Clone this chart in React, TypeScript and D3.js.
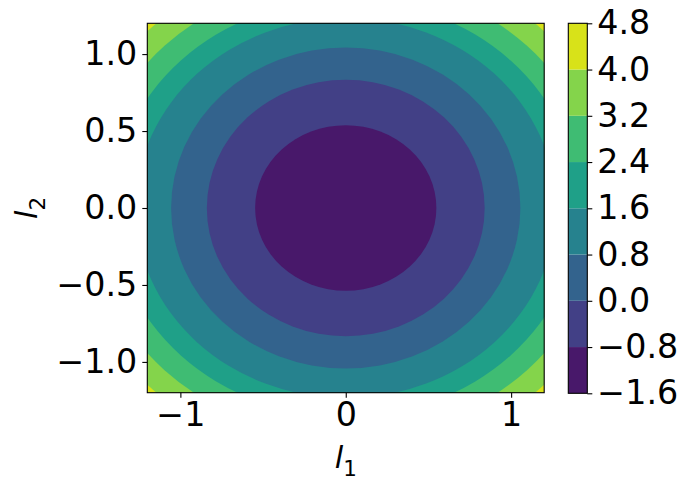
import { useRef, useEffect } from 'react';
import * as d3 from 'd3';

// contour levels (colorbar boundaries)
const levels = [-1.6, -0.8, 0.0, 0.8, 1.6, 2.4, 3.2, 4.0, 4.8];
// where each inner boundary (levels[1..7]) meets the l1 axis and the l2 axis
const boundaryL1 = [0.548, 0.84, 1.056, 1.27, 1.41, 1.55, 1.68];
const boundaryL2 = [0.538, 0.833, 1.043, 1.235, 1.355, 1.49, 1.64];
const xTicks = [-1, 0, 1];
const yTicks = [-1.0, -0.5, 0.0, 0.5, 1.0];

const FONT = 'DejaVu Sans, sans-serif';
const TICK_SIZE = '33.3px';
const LABEL_SIZE = '30.6px';
const minus = (s: string) => s.replace('-', '\u2212');

export default function App() {
  const ref = useRef<SVGSVGElement>(null);

  useEffect(() => {
    const svg = d3.select(ref.current);
    svg.selectAll('*').remove();

    const plot = { left: 147.3, right: 544.2, top: 23.3, bottom: 392.7 };
    const x = d3.scaleLinear().domain([-1.2, 1.2]).range([plot.left, plot.right]);
    const y = d3.scaleLinear().domain([-1.2, 1.2]).range([plot.bottom, plot.top]);

    const nBands = levels.length - 1;
    const color = (i: number) => d3.interpolateViridis((i + 0.5) / nBands);

    svg.append('clipPath').attr('id', 'plot-clip')
      .append('rect')
      .attr('x', plot.left).attr('y', plot.top)
      .attr('width', plot.right - plot.left).attr('height', plot.bottom - plot.top);

    const g = svg.append('g').attr('clip-path', 'url(#plot-clip)');

    // outermost band fills the whole area, then inner bands on top
    g.append('rect')
      .attr('x', plot.left).attr('y', plot.top)
      .attr('width', plot.right - plot.left).attr('height', plot.bottom - plot.top)
      .attr('fill', color(nBands - 1));

    for (let k = boundaryL1.length - 1; k >= 0; k--) {
      g.append('ellipse')
        .attr('cx', x(0)).attr('cy', y(0))
        .attr('rx', x(boundaryL1[k]) - x(0))
        .attr('ry', y(0) - y(boundaryL2[k]))
        .attr('fill', color(k));
    }

    // frame
    svg.append('rect')
      .attr('x', plot.left).attr('y', plot.top)
      .attr('width', plot.right - plot.left).attr('height', plot.bottom - plot.top)
      .attr('fill', 'none').attr('stroke', '#000').attr('stroke-width', 1.1);

    // x axis
    const xAxis = svg.append('g').attr('transform', `translate(0,${plot.bottom})`)
      .call(d3.axisBottom(x).tickValues(xTicks).tickSize(5).tickPadding(5).tickFormat(d => minus(d3.format('d')(d as number))));
    xAxis.select('.domain').remove();
    xAxis.selectAll('.tick line').attr('stroke', '#000').attr('stroke-width', 1.1);
    xAxis.selectAll('text').attr('font-family', FONT).attr('font-size', TICK_SIZE).attr('fill', '#000');

    // y axis
    const yAxis = svg.append('g').attr('transform', `translate(${plot.left},0)`)
      .call(d3.axisLeft(y).tickValues(yTicks).tickSize(5).tickPadding(5).tickFormat(d => minus(d3.format('.1f')(d as number))));
    yAxis.select('.domain').remove();
    yAxis.selectAll('.tick line').attr('stroke', '#000').attr('stroke-width', 1.1);
    yAxis.selectAll('text').attr('font-family', FONT).attr('font-size', TICK_SIZE).attr('fill', '#000');

    // axis labels
    const xl = svg.append('text')
      .attr('x', (plot.left + plot.right) / 2).attr('y', 468)
      .attr('text-anchor', 'middle').attr('font-family', FONT).attr('font-size', LABEL_SIZE);
    xl.append('tspan').attr('font-style', 'italic').text('l');
    xl.append('tspan').attr('font-size', '21.4px').attr('dy', 8).text('1');

    const yl = svg.append('text')
      .attr('transform', `translate(37,${(plot.top + plot.bottom) / 2}) rotate(-90)`)
      .attr('text-anchor', 'middle').attr('font-family', FONT).attr('font-size', LABEL_SIZE);
    yl.append('tspan').attr('font-style', 'italic').text('l');
    yl.append('tspan').attr('font-size', '21.4px').attr('dy', 8).text('2');

    // colorbar
    const cb = { left: 568.3, right: 587.3, top: 23.3, bottom: 393.3 };
    const yc = d3.scaleLinear().domain([levels[0], levels[levels.length - 1]]).range([cb.bottom, cb.top]);
    const cbg = svg.append('g');
    levels.slice(0, -1).forEach((lv, i) => {
      cbg.append('rect')
        .attr('x', cb.left).attr('y', yc(levels[i + 1]))
        .attr('width', cb.right - cb.left).attr('height', yc(lv) - yc(levels[i + 1]))
        .attr('fill', color(i));
    });
    cbg.append('rect')
      .attr('x', cb.left).attr('y', cb.top)
      .attr('width', cb.right - cb.left).attr('height', cb.bottom - cb.top)
      .attr('fill', 'none').attr('stroke', '#000').attr('stroke-width', 1.1);
    const cAxis = svg.append('g').attr('transform', `translate(${cb.right},0)`)
      .call(d3.axisRight(yc).tickValues(levels).tickSize(5).tickPadding(5).tickFormat(d => minus(d3.format('.1f')(d as number))));
    cAxis.select('.domain').remove();
    cAxis.selectAll('.tick line').attr('stroke', '#000').attr('stroke-width', 1.1);
    cAxis.selectAll('text').attr('font-family', FONT).attr('font-size', TICK_SIZE).attr('fill', '#000');
  }, []);

  return (
    <svg ref={ref} width={691} height={489}
      style={{ position: 'absolute', left: 0, top: 0, background: '#fff' }} />
  );
}
